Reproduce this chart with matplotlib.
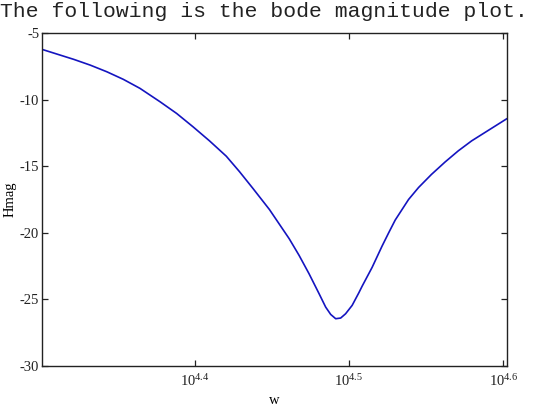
import numpy as np
import matplotlib
matplotlib.use("Agg")
import matplotlib.pyplot as plt
from matplotlib.ticker import NullLocator

# Bode magnitude
w = np.array([20000, 20970, 21490, 22030, 22580, 23150, 23850, 24450, 25060,
              25680, 26330, 26850, 27390, 28080, 28920, 29350, 29790, 30240,
              30540, 30770, 31000, 31230, 31460, 31770, 32090, 32250, 32730,
              33220, 33550, 33880, 34560, 35080, 35760, 36500, 37220, 37970,
              40000])
hmag = np.array([-6.23, -6.98, -7.41, -7.91, -8.48, -9.16, -10.16, -11.04,
                 -12.05, -13.10, -14.25, -15.40, -16.65, -18.25, -20.44,
                 -21.69, -23.07, -24.57, -25.58, -26.13, -26.45, -26.40,
                 -26.08, -25.45, -24.50, -24.00, -22.60, -21.00, -20.00,
                 -19.04, -17.50, -16.60, -15.62, -14.68, -13.85, -13.10,
                 -11.45])

x_ticks = [10**4.4, 10**4.5, 10**4.6]
x_labels = [r"$\mathregular{10^{4.4}}$", r"$\mathregular{10^{4.5}}$",
            r"$\mathregular{10^{4.6}}$"]
y_ticks = [-30, -25, -20, -15, -10, -5]

plt.rcParams["font.family"] = "Liberation Serif"
plt.rcParams["mathtext.fontset"] = "custom"
plt.rcParams["mathtext.rm"] = "Liberation Serif"

fig = plt.figure(figsize=(5.6, 4.17), dpi=100)
ax = fig.add_axes([0.075, 0.1223, 0.8295, 0.7986])

ax.plot(w, hmag, color="#1414C0", linewidth=1.2)

ax.set_xscale("log")
ax.set_xlim(20000, 40000)
ax.set_ylim(-30, -5)
ax.set_xticks(x_ticks)
ax.set_xticklabels(x_labels)
ax.xaxis.set_minor_locator(NullLocator())
ax.set_yticks(y_ticks)
ax.set_yticklabels([str(v) for v in y_ticks])
ax.tick_params(direction="in", top=True, right=True, labelsize=10.5,
               length=4, width=0.9, colors="#222222")
ax.tick_params(axis="x", pad=5)
ax.tick_params(axis="y", pad=2)
for sp in ax.spines.values():
    sp.set_linewidth(1.0)
    sp.set_edgecolor("#222222")

ax.set_xlabel("w", fontsize=10.5, labelpad=4)
ax.set_ylabel("Hmag", fontsize=10.5, labelpad=2)

fig.text(0.0, 1 - 17 / 417, "The following is the bode magnitude plot.",
         family="Liberation Mono", fontsize=15.4, va="baseline", ha="left",
         color="#222222")

fig.savefig("out.png", dpi=100, facecolor="white")
